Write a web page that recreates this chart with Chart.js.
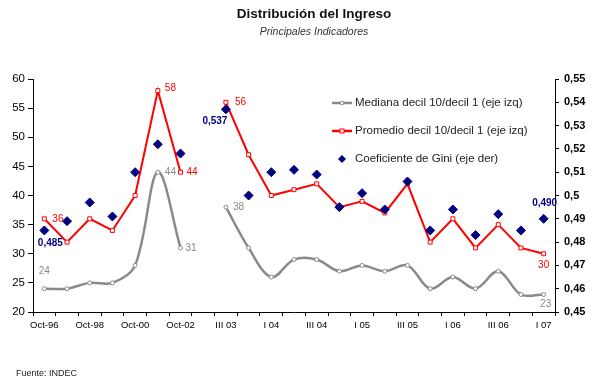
<!DOCTYPE html>
<html>
<head>
<meta charset="utf-8">
<script src="https://cdn.jsdelivr.net/npm/chart.js@4.4.1/dist/chart.umd.min.js"></script>
<style>
    html, body { margin: 0; padding: 0; background: #fff; }
    #wrap { width: 594px; height: 384px; }
</style>
</head>
<body>
<div id="wrap"><canvas id="ingresoChart" width="594" height="384"></canvas></div>
<script>
// categorias (la posicion 7 queda vacia: cambio de EPH puntual a continua)
const categories = ["Oct-96", "Oct-97", "Oct-98", "Oct-99", "Oct-00", "Oct-01", "Oct-02", "May-03",
    "III 03", "IV 03", "I 04", "II 04", "III 04", "IV 04", "I 05", "II 05", "III 05", "IV 05",
    "I 06", "II 06", "III 06", "IV 06", "I 07"];

const medianaValues = [24, 24, 25, 25, 28, 44, 31, null, 38, 31, 26, 29, 29, 27, 28, 27, 28, 24, 26, 24, 27, 23, 23];
const promedioValues = [36, 32, 36, 34, 40, 58, 44, null, 56, 47, 40, 41, 42, 38, 39, 37, 42, 32, 36, 31, 35, 31, 30];
const giniValues = [0.485, 0.489, 0.497, 0.491, 0.510, 0.522, 0.518, null, 0.537, 0.500, 0.510, 0.511, 0.509,
    0.495, 0.501, 0.494, 0.506, 0.485, 0.494, 0.483, 0.492, 0.485, 0.490];

const leftAxisRange = [20, 60];
const rightAxisRange = [0.45, 0.55];

const seriesNames = ["Mediana decil 10/decil 1 (eje izq)", "Promedio decil 10/decil 1 (eje izq)", "Coeficiente de Gini (eje der)"];

// etiquetas de valores: [indice, texto]
const medianaLabels = [[0, "24"], [5, "44"], [6, "31"], [8, "38"], [22, "23"]];
const promedioLabels = [[0, "36"], [5, "58"], [6, "44"], [8, "56"], [22, "30"]];
const giniLabels = [[0, "0,485"], [8, "0,537"], [22, "0,490"]];

const grayColor = "#8a8a8a";
const redColor = "#ff0000";
const navyColor = "#000080";
const sans = "'Liberation Sans', Arial, sans-serif";

// donde va cada etiqueta respecto al punto
const labelPlacement = {
    0: {0: [0, -17, "center"], 5: [7, 0, "left"], 6: [5, 0, "left"], 8: [7, 0, "left"], 22: [2, 10, "center"]},
    1: {0: [8, 0, "left"], 5: [7, -2, "left"], 6: [6, 0, "left"], 8: [9, 0, "left"], 22: [0, 11, "center"]},
    2: {0: [6, 13, "center"], 8: [-11, 12, "center"], 22: [1, -16, "center"]}
};

function fmtGini(v) {
    return String(Math.round(v * 100) / 100).replace(".", ",");
}

const textPlugin = {
    id: "textPlugin",
    afterDraw(chart) {
        const ctx = chart.ctx;
        ctx.save();
        ctx.textBaseline = "middle";

        // titulo
        ctx.fillStyle = "#111";
        ctx.textAlign = "center";
        ctx.font = "bold 13.5px " + sans;
        ctx.fillText("Distribución del Ingreso", 314, 14);
        ctx.font = "italic 10.5px " + sans;
        ctx.fillStyle = "#333";
        ctx.fillText("Principales Indicadores", 314, 32);

        // fuente
        ctx.textAlign = "left";
        ctx.font = "9px " + sans;
        ctx.fillStyle = "#222";
        ctx.fillText("Fuente: INDEC", 16, 374);

        // leyenda
        const legendX = 332;
        const legendY = [103, 131, 159];
        ctx.font = "11.5px " + sans;
        ctx.lineWidth = 2.5;
        ctx.strokeStyle = grayColor;
        ctx.beginPath(); ctx.moveTo(legendX, legendY[0]); ctx.lineTo(legendX + 20, legendY[0]); ctx.stroke();
        ctx.fillStyle = "#fff"; ctx.lineWidth = 1;
        ctx.beginPath(); ctx.arc(legendX + 10, legendY[0], 1.8, 0, Math.PI * 2); ctx.fill(); ctx.stroke();
        ctx.lineWidth = 2.5;
        ctx.strokeStyle = redColor;
        ctx.beginPath(); ctx.moveTo(legendX, legendY[1]); ctx.lineTo(legendX + 20, legendY[1]); ctx.stroke();
        ctx.lineWidth = 1;
        ctx.fillRect(legendX + 8, legendY[1] - 2, 4, 4); ctx.strokeRect(legendX + 8, legendY[1] - 2, 4, 4);
        ctx.fillStyle = navyColor;
        ctx.beginPath();
        ctx.moveTo(legendX + 10, legendY[2] - 4); ctx.lineTo(legendX + 14, legendY[2]);
        ctx.lineTo(legendX + 10, legendY[2] + 4); ctx.lineTo(legendX + 6, legendY[2]);
        ctx.closePath(); ctx.fill();
        ctx.fillStyle = "#222";
        for (let i = 0; i < seriesNames.length; i++) {
            ctx.fillText(seriesNames[i], legendX + 23, legendY[i]);
        }

        // etiquetas de datos
        const allLabels = [medianaLabels, promedioLabels, giniLabels];
        const colors = [grayColor, redColor, navyColor];
        for (let d = 0; d < 3; d++) {
            const meta = chart.getDatasetMeta(d);
            ctx.fillStyle = colors[d];
            ctx.font = (d === 2 ? "bold " : "") + "10px " + sans;
            allLabels[d].forEach(function (l) {
                const pt = meta.data[l[0]];
                const p = labelPlacement[d][l[0]];
                ctx.textAlign = p[2];
                ctx.fillText(l[1], pt.x + p[0], pt.y + p[1]);
            });
        }
        ctx.restore();
    }
};

new Chart("ingresoChart", {
    type: "line",
    data: {
        labels: categories,
        datasets: [{
            label: seriesNames[0],
            data: medianaValues,
            yAxisID: "y",
            borderColor: grayColor,
            borderWidth: 2.5,
            tension: 0.35,
            pointStyle: "circle",
            pointRadius: 2,
            pointBackgroundColor: "#fff",
            pointBorderColor: grayColor,
            pointBorderWidth: 1,
            spanGaps: false,
            order: 2
        }, {
            label: seriesNames[1],
            data: promedioValues,
            yAxisID: "y",
            borderColor: redColor,
            borderWidth: 2,
            tension: 0,
            pointStyle: "rect",
            pointRadius: 2.8,
            pointBackgroundColor: "#fff",
            pointBorderColor: redColor,
            pointBorderWidth: 1,
            spanGaps: false,
            order: 1
        }, {
            label: seriesNames[2],
            data: giniValues,
            yAxisID: "y1",
            showLine: false,
            pointStyle: "rectRot",
            pointRadius: 4.5,
            pointBackgroundColor: navyColor,
            pointBorderColor: navyColor,
            pointBorderWidth: 1,
            order: 0
        }]
    },
    options: {
        responsive: false,
        animation: false,
        layout: {padding: {top: 79, left: 0, right: 0, bottom: 0}},
        plugins: {
            legend: {display: false},
            tooltip: {enabled: false}
        },
        scales: {
            x: {
                offset: true,
                grid: {offset: true, drawOnChartArea: false, drawTicks: true, tickLength: 4, color: "#000"},
                border: {color: "#000", width: 1},
                ticks: {
                    autoSkip: false, maxRotation: 0, padding: 4, color: "#000",
                    font: {family: sans, size: 9.5},
                    callback: function (v, i) { return i % 2 === 0 ? categories[i] : ""; }
                },
                afterFit: function (scale) { scale.height = 72; }
            },
            y: {
                position: "left",
                min: leftAxisRange[0], max: leftAxisRange[1],
                grid: {drawOnChartArea: false, drawTicks: true, tickLength: 5, color: "#000"},
                border: {color: "#000", width: 1},
                ticks: {stepSize: 5, padding: 3, color: "#000", font: {family: sans, size: 11.5}},
                afterFit: function (scale) { scale.width = 33; }
            },
            y1: {
                position: "right",
                min: rightAxisRange[0], max: rightAxisRange[1],
                grid: {drawOnChartArea: false, drawTicks: true, tickLength: 4, color: "#000"},
                border: {color: "#000", width: 1},
                ticks: {
                    stepSize: 0.01, padding: 5, color: "#000", font: {family: sans, size: 11, weight: "bold"},
                    callback: function (v) { return fmtGini(v); }
                },
                afterFit: function (scale) { scale.width = 39; }
            }
        }
    },
    plugins: [textPlugin]
});
</script>
</body>
</html>
